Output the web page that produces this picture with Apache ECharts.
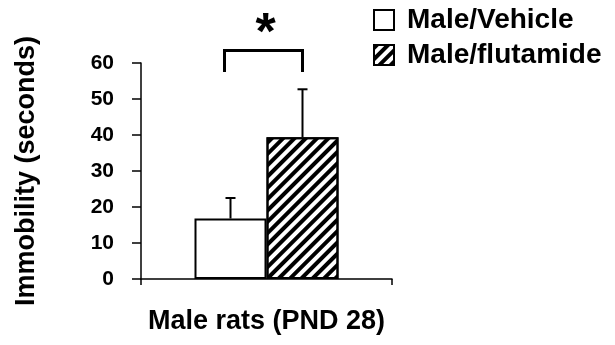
<!DOCTYPE html>
<html>
<head>
<meta charset="utf-8">
<script src="https://cdn.jsdelivr.net/npm/echarts@6/dist/echarts.min.js"></script>
<style>
  html, body { margin: 0; padding: 0; background: #fff; }
  #chart { width: 615px; height: 345px; }
</style>
</head>
<body>
<div id="chart"></div>
<script>
// data
const categories = ['Male rats (PND 28)']
const groupNames = ['Male/Vehicle', 'Male/flutamide']
const means = [16.8, 39.4]
const sems = [5.7, 13.3]
const yTicks = [0, 10, 20, 30, 40, 50, 60]
// significance bracket: bottom of legs, top bar
const bracketLevels = [57.5, 63.5]
const sigMark = '*'

const FONT = 'Arial, "Liberation Sans", sans-serif'
const BAR_W = 72

let chart = echarts.init(document.getElementById('chart'))

chart.setOption({
  animation: false,
  grid: {
    left: 141,
    right: 223,
    top: 63,
    bottom: 66
  },
  legend: {
    data: groupNames,
    orient: 'vertical',
    left: 368,
    top: 1,
    icon: 'rect',
    itemWidth: 20,
    itemHeight: 20,
    itemGap: 7,
    textStyle: {
      fontFamily: FONT,
      fontSize: 28,
      fontWeight: 'bold',
      color: '#000',
      padding: [0, 0, 0, 8]
    }
  },
  xAxis: {
    type: 'category',
    data: categories,
    boundaryGap: true,
    axisLine: {
      lineStyle: { color: '#000', width: 1.5 }
    },
    axisTick: {
      show: true,
      length: 6,
      lineStyle: { color: '#000', width: 1.5 }
    },
    axisLabel: {
      margin: 29,
      color: '#000',
      fontFamily: FONT,
      fontSize: 27,
      fontWeight: 'bold'
    }
  },
  yAxis: {
    type: 'value',
    min: yTicks[0],
    max: yTicks[yTicks.length - 1],
    interval: yTicks[1] - yTicks[0],
    name: 'Immobility (seconds)',
    nameLocation: 'middle',
    nameRotate: 90,
    nameGap: 101,
    nameTextStyle: {
      color: '#000',
      fontFamily: FONT,
      fontSize: 27,
      fontWeight: 'bold'
    },
    axisLine: {
      show: true,
      lineStyle: { color: '#000', width: 1.5 }
    },
    axisTick: {
      show: true,
      length: 9,
      lineStyle: { color: '#000', width: 1.5 }
    },
    axisLabel: {
      margin: 27,
      color: '#000',
      fontFamily: FONT,
      fontSize: 21,
      fontWeight: 'bold'
    },
    splitLine: { show: false }
  },
  series: [
    {
      name: groupNames[0],
      type: 'bar',
      data: [means[0]],
      barWidth: BAR_W,
      barGap: '0%',
      itemStyle: {
        color: '#fff',
        borderColor: '#000',
        borderWidth: 2
      }
    },
    {
      name: groupNames[1],
      type: 'bar',
      data: [means[1]],
      barWidth: BAR_W,
      barGap: '0%',
      itemStyle: {
        color: '#fff',
        borderColor: '#000',
        borderWidth: 2,
        // diagonal hatching, lines running up to the right
        decal: {
          symbol: 'rect',
          symbolSize: 1,
          color: '#000',
          dashArrayX: [1, 0],
          dashArrayY: [4, 4],
          rotation: -Math.PI / 4
        }
      }
    },
    {
      // error bars (upper only)
      type: 'custom',
      name: 'sem',
      z: 3,
      data: means.map((m, i) => [0, m, m + sems[i], i]),
      renderItem(params, api) {
        let base = api.coord([api.value(0), api.value(1)])
        let top = api.coord([api.value(0), api.value(2)])
        let x = base[0] + (api.value(3) - 0.5) * BAR_W
        let st = { stroke: '#000', lineWidth: 2 }
        return {
          type: 'group',
          children: [
            { type: 'line', shape: { x1: x, y1: base[1], x2: x, y2: top[1] }, style: st },
            { type: 'line', shape: { x1: x - 5, y1: top[1], x2: x + 5, y2: top[1] }, style: st }
          ]
        }
      }
    },
    {
      // significance bracket + asterisk
      type: 'custom',
      name: 'sig',
      z: 3,
      data: [[0, bracketLevels[0], bracketLevels[1]]],
      renderItem(params, api) {
        let lo = api.coord([api.value(0), api.value(1)])
        let hi = api.coord([api.value(0), api.value(2)])
        let xL = lo[0] - BAR_W / 2 - 6
        let xR = lo[0] + BAR_W / 2
        let st = { stroke: '#000', lineWidth: 3, fill: null }
        return {
          type: 'group',
          children: [
            {
              type: 'polyline',
              shape: { points: [[xL, lo[1]], [xL, hi[1]], [xR, hi[1]], [xR, lo[1]]] },
              style: st
            },
            {
              type: 'text',
              x: (xL + xR) / 2 + 2,
              y: hi[1] + 10,
              style: {
                text: sigMark,
                fill: '#000',
                font: 'bold 52px ' + FONT,
                align: 'center',
                verticalAlign: 'bottom'
              }
            }
          ]
        }
      }
    }
  ]
})
</script>
</body>
</html>
